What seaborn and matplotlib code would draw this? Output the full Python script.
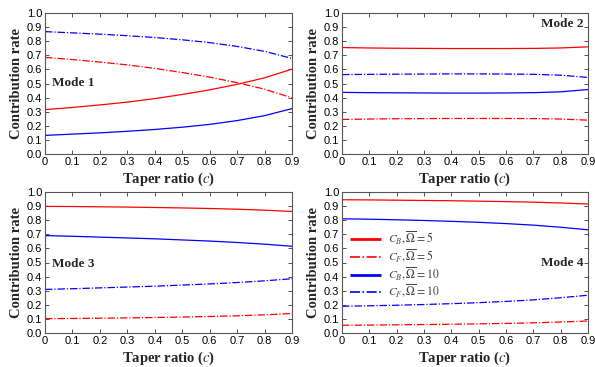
import numpy as np
import pandas as pd
import matplotlib
matplotlib.use("Agg")
import matplotlib.pyplot as plt
import seaborn as sns

taper = [0.0, 0.1, 0.2, 0.3, 0.4, 0.5, 0.6, 0.7, 0.8, 0.9]

# Mode 1
m1_cb5 = [0.315, 0.330, 0.348, 0.368, 0.393, 0.422, 0.455, 0.494, 0.540, 0.602]
m1_cf5 = [0.685, 0.670, 0.652, 0.632, 0.607, 0.578, 0.545, 0.506, 0.460, 0.398]
m1_cb10 = [0.132, 0.141, 0.150, 0.161, 0.174, 0.190, 0.210, 0.237, 0.272, 0.322]
m1_cf10 = [0.868, 0.859, 0.850, 0.839, 0.826, 0.810, 0.790, 0.763, 0.728, 0.678]
# Mode 2
m2_cb5 = [0.755, 0.752, 0.750, 0.749, 0.748, 0.748, 0.748, 0.749, 0.752, 0.760]
m2_cf5 = [0.245, 0.248, 0.250, 0.251, 0.252, 0.252, 0.252, 0.251, 0.248, 0.240]
m2_cb10 = [0.437, 0.435, 0.434, 0.433, 0.432, 0.432, 0.433, 0.435, 0.441, 0.457]
m2_cf10 = [0.563, 0.565, 0.566, 0.567, 0.568, 0.568, 0.567, 0.565, 0.559, 0.543]
# Mode 3
m3_cb5 = [0.898, 0.897, 0.895, 0.893, 0.890, 0.887, 0.883, 0.878, 0.871, 0.862]
m3_cf5 = [0.102, 0.103, 0.105, 0.107, 0.110, 0.113, 0.117, 0.122, 0.129, 0.138]
m3_cb10 = [0.691, 0.686, 0.680, 0.674, 0.668, 0.660, 0.652, 0.642, 0.630, 0.615]
m3_cf10 = [0.309, 0.314, 0.320, 0.326, 0.332, 0.340, 0.348, 0.358, 0.370, 0.385]
# Mode 4
m4_cb5 = [0.945, 0.944, 0.942, 0.940, 0.938, 0.935, 0.932, 0.928, 0.922, 0.915]
m4_cf5 = [0.055, 0.056, 0.058, 0.060, 0.062, 0.065, 0.068, 0.072, 0.078, 0.085]
m4_cb10 = [0.810, 0.807, 0.803, 0.798, 0.792, 0.785, 0.776, 0.765, 0.750, 0.732]
m4_cf10 = [0.190, 0.193, 0.197, 0.202, 0.208, 0.215, 0.224, 0.235, 0.250, 0.268]

modes = ["Mode 1", "Mode 2", "Mode 3", "Mode 4"]
series_labels = [r"$C_B,\overline{\Omega}=5$", r"$C_F,\overline{\Omega}=5$",
                 r"$C_B,\overline{\Omega}=10$", r"$C_F,\overline{\Omega}=10$"]
mode_data = [
    [m1_cb5, m1_cf5, m1_cb10, m1_cf10],
    [m2_cb5, m2_cf5, m2_cb10, m2_cf10],
    [m3_cb5, m3_cf5, m3_cb10, m3_cf10],
    [m4_cb5, m4_cf5, m4_cb10, m4_cf10],
]
xticks = [0, 0.1, 0.2, 0.3, 0.4, 0.5, 0.6, 0.7, 0.8, 0.9]
xticklabels = ["0", "0.1", "0.2", "0.3", "0.4", "0.5", "0.6", "0.7", "0.8", "0.9"]
yticks = [0.0, 0.1, 0.2, 0.3, 0.4, 0.5, 0.6, 0.7, 0.8, 0.9, 1.0]
yticklabels = ["0.0", "0.1", "0.2", "0.3", "0.4", "0.5", "0.6", "0.7", "0.8", "0.9", "1.0"]

sns.set_style("ticks")
plt.rcParams["font.family"] = ["Liberation Sans", "DejaVu Sans"]
plt.rcParams["mathtext.fontset"] = "stix"

colors = ["#ff0000", "#ff0000", "#0000ff", "#0000ff"]
dashes = [(1, 0), (6, 1.5, 1, 1.5), (1, 0), (6, 1.5, 1, 1.5)]

fig = plt.figure(figsize=(5.95, 3.67), dpi=100)
W, H = 595, 367
boxes = [(45, 13, 292, 154), (342, 13, 588, 154), (45, 192, 292, 333), (342, 192, 588, 333)]

serif = ["Liberation Serif", "DejaVu Serif"]
text_pos = [(0.025, 0.5, "left"), (0.885, 0.92, "right"), (0.025, 0.49, "left"), (0.885, 0.5, "right")]

for i, (l, t, r, b) in enumerate(boxes):
    ax = fig.add_axes([l / W, 1 - b / H, (r - l) / W, (b - t) / H])
    rows = []
    for s, vals in enumerate(mode_data[i]):
        for xv, yv in zip(taper, vals):
            rows.append({"c": xv, "rate": yv, "series": series_labels[s]})
    df = pd.DataFrame(rows)
    sns.lineplot(data=df, x="c", y="rate", hue="series", style="series",
                 palette=dict(zip(series_labels, colors)),
                 dashes=dict(zip(series_labels, dashes)),
                 linewidth=0.9, ax=ax, legend=(i == 3))
    ax.set_xlim(0, 0.9)
    ax.set_ylim(0, 1.0)
    ax.set_xticks(xticks)
    ax.set_xticklabels(xticklabels)
    ax.set_yticks(yticks)
    ax.set_yticklabels(yticklabels)
    ax.tick_params(direction="in", length=3, width=0.6, labelsize=8, pad=2,
                   top=True, right=True, colors="#333333", labelcolor="black")
    for sp in ax.spines.values():
        sp.set_color("#555555")
        sp.set_linewidth(0.8)
    ax.set_xlabel("Taper ratio ($\\mathbf{\\mathit{c}}$)", fontsize=10.5, fontweight="bold",
                  family=serif, labelpad=3)
    ax.set_ylabel("Contribution rate", fontsize=10.5, fontweight="bold", family=serif, labelpad=3)
    tx, ty, ha = text_pos[i]
    ax.text(tx, ty, modes[i], fontsize=9.5, fontweight="bold", family=serif, ha=ha, va="center")
    if i == 3:
        leg = ax.legend(loc="upper left", bbox_to_anchor=(0.0, 0.79), frameon=False,
                        fontsize=8.5, handlelength=2.6, handletextpad=0.6,
                        labelspacing=0.0, borderaxespad=0.3)
        for k, h in enumerate(leg.get_lines()):
            h.set_linewidth(2.0 if k % 2 == 0 else 1.2)
        for tx_ in leg.get_texts():
            tx_.set_color("#444444")

fig.savefig("out.png", dpi=100)
